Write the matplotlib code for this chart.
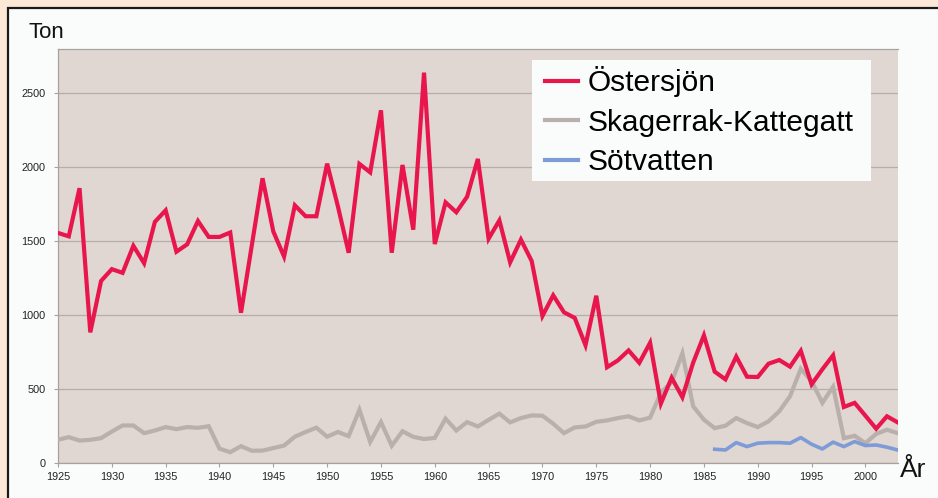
import matplotlib
matplotlib.use("Agg")
import matplotlib.pyplot as plt
from matplotlib.patches import Rectangle

plt.rcParams['font.family'] = ['Liberation Sans', 'DejaVu Sans']

years = list(range(1925, 2004))
ostersjon = [1555, 1532, 1858, 882, 1230, 1310, 1285, 1468, 1350, 1630,
             1708, 1428, 1478, 1636, 1528, 1528, 1558, 1015, 1470, 1925,
             1565, 1395, 1742, 1668, 1668, 2024, 1735, 1421, 2022, 1965,
             2385, 1421, 2015, 1577, 2640, 1480, 1762, 1695, 1800, 2056,
             1516, 1640, 1356, 1510, 1365, 993, 1133, 1018, 980, 795,
             1130, 646, 692, 760, 676, 812, 400, 575, 443, 677,
             862, 616, 564, 718, 582, 580, 670, 695, 650, 757,
             530, 632, 727, 377, 405, 318, 230, 314, 273]
skagerrak = [155, 173, 150, 155, 166, 211, 252, 252, 200, 218,
             241, 227, 241, 236, 247, 95, 71, 112, 81, 82,
             99, 116, 176, 208, 237, 176, 208, 180, 358, 140,
             275, 115, 213, 175, 160, 168, 298, 218, 275, 245,
             290, 332, 273, 302, 320, 318, 264, 200, 239, 245,
             277, 286, 302, 314, 286, 305, 473, 545, 741, 382,
             291, 234, 250, 302, 268, 241, 280, 348, 450, 636,
             552, 405, 514, 166, 182, 132, 195, 223, 200]
sot_years = list(range(1986, 2004))
sotvatten = [91, 86, 136, 109, 132, 136, 136, 132, 170, 125,
             93, 139, 109, 143, 116, 120, 105, 86]

labels = ['Östersjön', 'Skagerrak-Kattegatt', 'Sötvatten']
xticks = list(range(1925, 2001, 5))
yticks = [0, 500, 1000, 1500, 2000, 2500]

W, H = 938, 498
fig = plt.figure(figsize=(W / 100, H / 100), dpi=100)
fig.patch.set_facecolor('#fce8d6')

# white panel with black border (top and left)
panel = Rectangle((8 / W, -0.1), 1.2, 1 - 8 / H + 0.1, transform=fig.transFigure,
                  facecolor='#fafcfc', edgecolor='#1a1a1a', linewidth=1.6, zorder=-5)
fig.patches.append(panel)

ax = fig.add_axes([58 / W, 1 - 462.7 / H, (897.7 - 58) / W, (462.7 - 49) / H])
ax.set_zorder(2)
ax.set_facecolor('#e0d6d2')

ax.plot(years, skagerrak, color='#b9b0ab', lw=3.0, solid_joinstyle='miter', zorder=3, label=labels[1])
ax.plot(years, ostersjon, color='#e8164c', lw=3.0, solid_joinstyle='miter', zorder=4, label=labels[0])
ax.plot(sot_years, sotvatten, color='#7d9bd6', lw=2.6, zorder=5, label=labels[2])

ax.set_xlim(1925, 2003)
ax.set_ylim(0, 2800)
ax.set_xticks(xticks)
ax.set_yticks(yticks)
ax.grid(axis='y', color='#b7aeaa', lw=0.9)
ax.set_axisbelow(True)
for s in ['left', 'bottom', 'top']:
    ax.spines[s].set_color('#a9a19d')
    ax.spines[s].set_linewidth(0.9)
ax.spines['right'].set_visible(False)
ax.tick_params(axis='both', length=3, color='#a9a19d', labelsize=7.8, labelcolor='#222222')
ax.tick_params(axis='y', pad=6)
ax.tick_params(axis='x', pad=4)

# legend background box
ax_w, ax_h = 897.7 - 58, 462.7 - 49
box = Rectangle(((532 - 58) / ax_w, 1 - (181 - 49) / ax_h), (871 - 532) / ax_w, (181 - 60) / ax_h,
                transform=ax.transAxes, facecolor='#fafcfc', edgecolor='none', zorder=10)
ax.add_patch(box)

handles, labs = ax.get_legend_handles_labels()
order = [1, 0, 2]
leg = ax.legend([handles[i] for i in order], [labs[i] for i in order],
                loc='upper left', bbox_to_anchor=((532 - 58) / ax_w, 1 - (53 - 49) / ax_h),
                fontsize=21.5, frameon=False,
                handlelength=1.1, handletextpad=0.3, borderpad=0.45,
                labelspacing=0.38, borderaxespad=0)
leg.set_zorder(11)
for line in leg.get_lines():
    line.set_linewidth(3.0)

fig.text(28 / W, 1 - 33 / H, 'Ton', fontsize=16, va='center', ha='left', color='#111111')
fig.text(900 / W, 1 - 470 / H, 'År', fontsize=19, va='center', ha='left', color='#111111')

fig.savefig('out.png', dpi=100, facecolor=fig.get_facecolor())
